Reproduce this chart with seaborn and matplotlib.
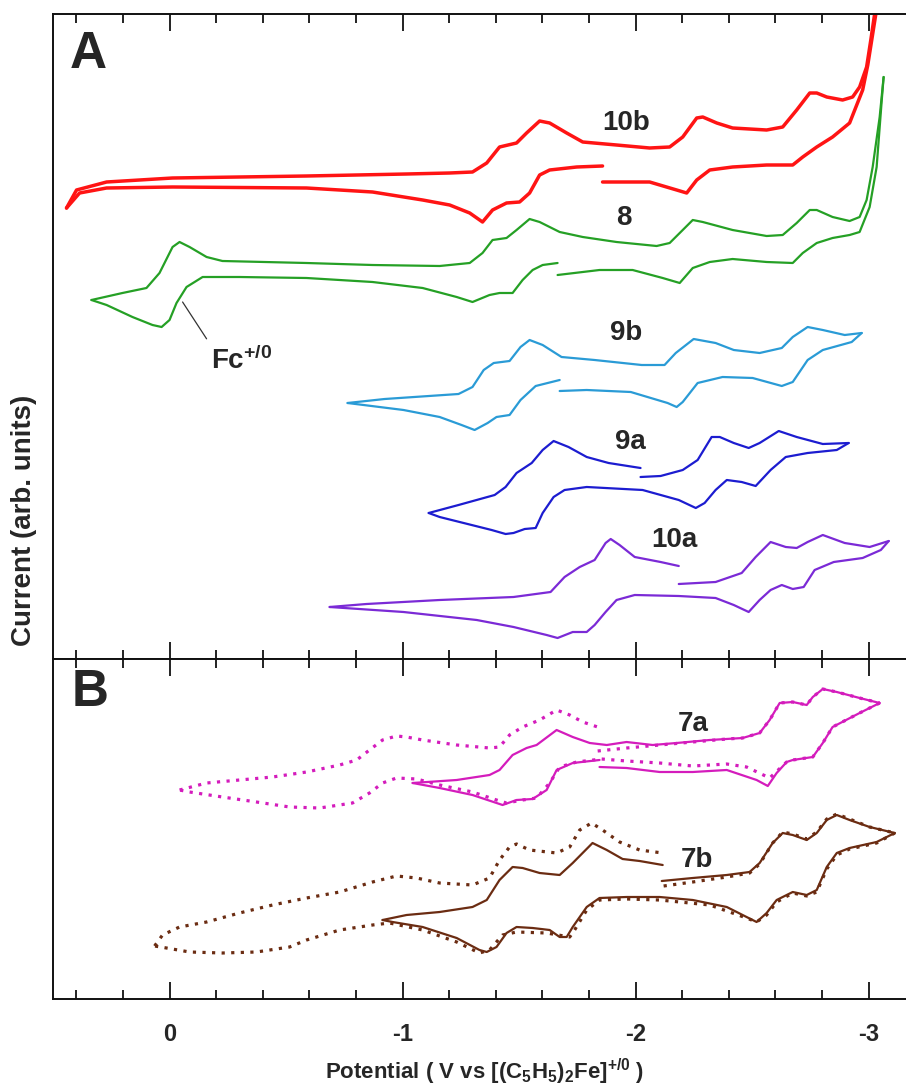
import matplotlib
matplotlib.use("Agg")
import matplotlib.pyplot as plt
import seaborn as sns
from matplotlib.ticker import MultipleLocator

# ---------------- data (potential in V vs Fc+/0, current in arbitrary units) ----------------
# Panel A -- 10b
v_10b_fwd = [0.442, 0.399, 0.270, -0.013, -0.588, -1.017, -1.202, -1.300, -1.361, -1.416, -1.489, -1.532, -1.588,
             -1.631, -1.704, -1.773, -1.918, -2.060, -2.146, -2.202, -2.262, -2.288, -2.348, -2.416, -2.562, -2.631,
             -2.691, -2.747, -2.777, -2.820, -2.888, -2.931, -2.961, -2.991, -3.009, -3.026, -3.034]
i_10b_fwd = [451, 469, 477, 481, 483, 485, 486, 487, 496, 512, 516, 526, 538, 536, 526, 517, 514, 511, 512, 522,
             541, 542, 536, 531, 529, 532, 549, 566, 566, 562, 559, 562, 572, 592, 619, 646, 659]
v_10b_rev_a = [-3.040, -3.013, -2.996, -2.974, -2.918, -2.845, -2.777, -2.717, -2.674, -2.562, -2.416, -2.318,
               -2.262, -2.219, -2.176, -2.060, -1.858]
i_10b_rev_a = [659, 619, 594, 569, 536, 522, 512, 502, 494, 494, 492, 489, 479, 466, 469, 477, 477]
v_10b_rev_b = [-1.858, -1.747, -1.631, -1.588, -1.545, -1.502, -1.446, -1.386, -1.343, -1.288, -1.202, -1.086,
               -0.871, -0.588, -0.013, 0.270, 0.386, 0.442]
i_10b_rev_b = [493, 492, 489, 484, 466, 457, 456, 449, 437, 446, 454, 459, 467, 471, 472, 471, 466, 451]

# Panel A -- 8 (with ferrocene couple)
v_8_fwd = [0.335, 0.202, 0.099, 0.043, -0.013, -0.043, -0.086, -0.159, -0.227, -0.588, -0.871, -1.159, -1.288,
           -1.343, -1.386, -1.446, -1.489, -1.545, -1.588, -1.674, -1.773, -1.918, -2.090, -2.146, -2.202, -2.245,
           -2.288, -2.416, -2.562, -2.631, -2.691, -2.747, -2.777, -2.845, -2.918, -2.961, -2.991, -3.017, -3.047,
           -3.064]
i_8_fwd = [359, 366, 371, 386, 412, 417, 412, 402, 398, 396, 394, 393, 396, 406, 419, 421, 429, 440, 437, 427,
           422, 417, 413, 416, 429, 439, 437, 429, 423, 424, 436, 449, 449, 442, 438, 442, 459, 492, 542, 582]
v_8_rev_a = [-3.064, -3.056, -3.034, -3.004, -2.961, -2.918, -2.845, -2.777, -2.717, -2.674, -2.562, -2.416,
             -2.318, -2.245, -2.189, -2.116, -1.987, -1.845, -1.665]
i_8_rev_a = [582, 559, 492, 452, 427, 424, 421, 416, 406, 396, 397, 400, 397, 391, 376, 381, 389, 389, 384]
v_8_rev_b = [-1.665, -1.601, -1.558, -1.515, -1.472, -1.416, -1.373, -1.300, -1.232, -1.086, -0.871, -0.588,
             -0.300, -0.142, -0.073, -0.030, 0.000, 0.034, 0.073, 0.159, 0.270, 0.335]
i_8_rev_b = [396, 394, 389, 379, 366, 366, 364, 357, 362, 371, 377, 381, 382, 382, 372, 356, 339, 332, 334, 342,
             354, 359]

# Panel A -- 9b
v_9b_fwd = [-0.764, -0.923, -1.240, -1.300, -1.348, -1.391, -1.459, -1.506, -1.545, -1.601, -1.682, -1.824,
            -2.026, -2.124, -2.172, -2.249, -2.343, -2.421, -2.532, -2.627, -2.674, -2.738, -2.803, -2.897, -2.970]
i_9b_fwd = [256, 260, 265, 272, 289, 296, 298, 312, 319, 314, 302, 299, 294, 294, 306, 320, 316, 309, 306, 311,
            322, 332, 329, 324, 326]
v_9b_rev_a = [-2.970, -2.927, -2.803, -2.738, -2.674, -2.627, -2.502, -2.373, -2.266, -2.202, -2.176, -2.137,
              -1.979, -1.790, -1.674]
i_9b_rev_a = [326, 317, 309, 299, 277, 273, 281, 282, 276, 257, 252, 256, 267, 269, 268]
v_9b_rev_b = [-1.674, -1.571, -1.506, -1.459, -1.403, -1.365, -1.309, -1.253, -1.159, -1.004, -0.764]
i_9b_rev_b = [279, 273, 259, 244, 242, 236, 229, 234, 242, 249, 256]

# Panel A -- 9a
v_9a_fwd_a = [-1.112, -1.240, -1.395, -1.442, -1.489, -1.554, -1.601, -1.648, -1.712, -1.790, -1.884, -2.021]
i_9a_fwd_a = [146, 154, 164, 172, 186, 196, 209, 218, 212, 202, 196, 191]
v_9a_fwd_b = [-2.021, -2.107, -2.202, -2.266, -2.326, -2.361, -2.421, -2.485, -2.532, -2.614, -2.691, -2.803,
              -2.914]
i_9a_fwd_b = [182, 183, 189, 199, 222, 222, 216, 211, 216, 228, 222, 215, 216]
v_9a_rev = [-2.914, -2.863, -2.738, -2.644, -2.579, -2.515, -2.455, -2.391, -2.343, -2.296, -2.258, -2.185,
            -2.030, -1.790, -1.695, -1.648, -1.601, -1.571, -1.524, -1.476, -1.442, -1.382, -1.159, -1.112]
i_9a_rev = [216, 209, 206, 202, 189, 173, 177, 179, 169, 156, 151, 159, 169, 172, 169, 162, 146, 131, 130, 126,
            125, 129, 142, 146]

# Panel A -- 10a
v_10a_fwd_a = [-0.687, -0.845, -1.159, -1.476, -1.635, -1.695, -1.760, -1.824, -1.871, -1.893, -1.931, -1.996,
               -2.107, -2.185]
i_10a_fwd_a = [52, 55, 59, 62, 67, 82, 92, 99, 116, 120, 114, 102, 97, 93]
v_10a_fwd_b = [-2.185, -2.343, -2.455, -2.515, -2.579, -2.644, -2.691, -2.738, -2.803, -2.897, -3.004, -3.086]
i_10a_fwd_b = [75, 77, 86, 102, 117, 112, 111, 117, 124, 116, 112, 118]
v_10a_rev = [-3.086, -3.052, -2.974, -2.850, -2.768, -2.721, -2.674, -2.627, -2.579, -2.532, -2.485, -2.421,
             -2.343, -2.185, -1.996, -1.918, -1.871, -1.824, -1.790, -1.730, -1.665, -1.618, -1.476, -1.318,
             -1.004, -0.687]
i_10a_rev = [118, 109, 101, 97, 89, 72, 70, 74, 69, 59, 47, 54, 61, 63, 64, 59, 47, 34, 27, 27, 21, 24, 32, 39,
             47, 52]

# Panel B -- 7a (dotted and solid scans)
v_7a_dot_fwd_a = [-0.043, -0.159, -0.300, -0.442, -0.588, -0.730, -0.803, -0.858, -0.914, -0.974, -1.017, -1.086,
                  -1.232, -1.373, -1.416, -1.459, -1.515, -1.588, -1.661, -1.717, -1.773, -1.837]
i_7a_dot_fwd_a = [209, 216, 219, 222, 227, 234, 239, 249, 259, 263, 262, 259, 254, 251, 252, 264, 272, 279, 289,
                  284, 277, 272]
v_7a_dot_fwd_b = [-1.837, -1.961, -2.103, -2.245, -2.391, -2.459, -2.532, -2.575, -2.618, -2.674, -2.734, -2.760,
                  -2.803, -2.863, -2.961, -3.047]
i_7a_dot_fwd_b = [248, 251, 254, 257, 260, 261, 266, 279, 296, 297, 294, 302, 310, 307, 301, 296]
v_7a_dot_rev = [-3.047, -2.961, -2.845, -2.803, -2.760, -2.674, -2.648, -2.575, -2.476, -2.391, -2.245, -2.103,
                -1.961, -1.854, -1.747, -1.674, -1.631, -1.575, -1.515, -1.446, -1.403, -1.300, -1.159, -1.060,
                -0.974, -0.914, -0.858, -0.785, -0.644, -0.515, -0.373, -0.227, -0.086, -0.043]
i_7a_dot_rev = [296, 286, 272, 256, 242, 239, 237, 221, 232, 235, 233, 236, 238, 240, 237, 232, 216, 201, 199,
                196, 199, 207, 214, 220, 221, 216, 206, 196, 191, 192, 197, 202, 207, 209]
v_7a_sol_fwd = [-1.043, -1.232, -1.373, -1.416, -1.472, -1.532, -1.575, -1.661, -1.730, -1.803, -1.876, -1.961,
                -2.073, -2.176, -2.318, -2.459, -2.532, -2.575, -2.618, -2.674, -2.734, -2.760, -2.803, -2.863,
                -2.961, -3.047]
i_7a_sol_fwd = [216, 219, 224, 229, 244, 251, 254, 269, 262, 256, 254, 257, 254, 256, 259, 261, 266, 279, 296,
                297, 294, 302, 310, 307, 301, 296]
v_7a_sol_rev_a = [-3.047, -2.961, -2.845, -2.803, -2.760, -2.674, -2.648, -2.605, -2.567, -2.519, -2.391, -2.245,
                  -2.103, -1.961, -1.845]
i_7a_sol_rev_a = [296, 286, 272, 256, 242, 239, 237, 226, 213, 219, 229, 227, 227, 231, 232]
v_7a_sol_rev_b = [-1.845, -1.730, -1.661, -1.618, -1.558, -1.489, -1.429, -1.300, -1.159, -1.043]
i_7a_sol_rev_b = [239, 236, 229, 209, 200, 199, 194, 204, 211, 216]

# Panel B -- 7b (dotted and solid scans)
v_7b_dot_fwd_a = [0.064, 0.030, -0.043, -0.159, -0.300, -0.442, -0.588, -0.730, -0.871, -0.974, -1.060, -1.159,
                  -1.300, -1.373, -1.416, -1.459, -1.489, -1.545, -1.661, -1.717, -1.760, -1.811, -1.858, -1.931,
                  -2.017, -2.116]
i_7b_dot_fwd_a = [53, 64, 72, 77, 86, 94, 101, 107, 117, 123, 121, 116, 114, 121, 139, 152, 155, 149, 146, 152,
                  169, 176, 169, 157, 149, 146]
v_7b_dot_fwd_b = [-2.120, -2.245, -2.391, -2.489, -2.532, -2.588, -2.631, -2.674, -2.734, -2.777, -2.820, -2.863,
                  -2.918, -3.004, -3.112]
i_7b_dot_fwd_b = [113, 117, 122, 126, 135, 156, 167, 165, 160, 167, 180, 185, 180, 172, 166]
v_7b_dot_rev = [-3.112, -3.034, -2.918, -2.863, -2.820, -2.777, -2.734, -2.674, -2.605, -2.562, -2.519, -2.476,
                -2.318, -2.103, -1.961, -1.845, -1.790, -1.738, -1.717, -1.618, -1.489, -1.429, -1.373, -1.330,
                -1.232, -1.086, -0.944, -0.871, -0.730, -0.588, -0.515, -0.373, -0.227, -0.086, 0.013, 0.064]
i_7b_dot_rev = [166, 156, 150, 144, 130, 107, 103, 106, 97, 84, 77, 81, 94, 99, 100, 99, 89, 69, 62, 66, 67, 64,
                49, 46, 57, 69, 76, 74, 69, 59, 52, 47, 46, 47, 51, 53]
v_7b_sol_fwd_a = [-0.914, -1.017, -1.159, -1.300, -1.361, -1.416, -1.472, -1.515, -1.588, -1.674, -1.730, -1.815,
                  -1.876, -1.944, -2.017, -2.116]
i_7b_sol_fwd_a = [79, 84, 87, 92, 99, 119, 132, 131, 126, 124, 136, 156, 149, 140, 138, 134]
v_7b_sol_fwd_b = [-2.112, -2.245, -2.391, -2.489, -2.532, -2.588, -2.631, -2.674, -2.734, -2.777, -2.820, -2.863,
                  -2.918, -3.004, -3.112]
i_7b_sol_fwd_b = [118, 121, 124, 127, 136, 156, 166, 164, 159, 166, 179, 184, 179, 172, 166]
v_7b_sol_rev = [-3.112, -3.034, -2.918, -2.863, -2.820, -2.777, -2.734, -2.674, -2.605, -2.562, -2.519, -2.476,
                -2.391, -2.245, -2.103, -1.961, -1.845, -1.790, -1.730, -1.704, -1.674, -1.631, -1.558, -1.489,
                -1.446, -1.403, -1.361, -1.330, -1.232, -1.086, -0.957, -0.914]
i_7b_sol_rev = [166, 157, 151, 146, 132, 109, 104, 107, 99, 86, 77, 82, 92, 99, 102, 102, 101, 92, 72, 62, 62, 69,
                71, 72, 66, 52, 47, 49, 61, 72, 77, 79]

# compound labels
labels_A = ["10b", "8", "9b", "9a", "10a"]
labels_A_v = [-1.957, -1.948, -1.957, -1.979, -2.167]
labels_A_i = [536, 441, 326, 217, 119]
labels_B = ["7a", "7b"]
labels_B_v = [-2.245, -2.262]
labels_B_i = [275, 139]
tick_vals = [0, -1, -2, -3]
tick_text = ["0", "-1", "-2", "-3"]

# ---------------- style ----------------
sns.set_theme(style="ticks")
plt.rcParams["font.family"] = ["Liberation Sans", "DejaVu Sans"]
plt.rcParams["font.weight"] = "bold"
plt.rcParams["mathtext.default"] = "regular"
plt.rcParams["axes.linewidth"] = 1.4

RED, GREEN, LBLUE, BLUE = "#ff1414", "#25a025", "#2a9bd6", "#1c1cd0"
PURPLE, MAGENTA, BROWN = "#7b2ad6", "#d41cbc", "#6b2c12"
DOT = (0, (1.0, 2.0))

fig = plt.figure(figsize=(9.06, 10.86), dpi=100)
W, H = 906.0, 1086.0
left = 53 / W
axA = fig.add_axes([left, 1 - 659 / H, 1 - left, (659 - 14) / H])
axB = fig.add_axes([left, 1 - 999 / H, 1 - left, (999 - 659) / H])


def trace(ax, v, i, color, lw=1.6, ls="-"):
    sns.lineplot(x=v, y=i, sort=False, estimator=None, ax=ax, color=color, lw=lw,
                 linestyle=ls, solid_joinstyle="round", solid_capstyle="round",
                 dash_capstyle="butt", legend=False)


# panel A
for v, i in [(v_10b_fwd, i_10b_fwd), (v_10b_rev_a, i_10b_rev_a), (v_10b_rev_b, i_10b_rev_b)]:
    trace(axA, v, i, RED, lw=2.5)
for v, i in [(v_8_fwd, i_8_fwd), (v_8_rev_a, i_8_rev_a), (v_8_rev_b, i_8_rev_b)]:
    trace(axA, v, i, GREEN)
for v, i in [(v_9b_fwd, i_9b_fwd), (v_9b_rev_a, i_9b_rev_a), (v_9b_rev_b, i_9b_rev_b)]:
    trace(axA, v, i, LBLUE)
for v, i in [(v_9a_fwd_a, i_9a_fwd_a), (v_9a_fwd_b, i_9a_fwd_b), (v_9a_rev, i_9a_rev)]:
    trace(axA, v, i, BLUE)
for v, i in [(v_10a_fwd_a, i_10a_fwd_a), (v_10a_fwd_b, i_10a_fwd_b), (v_10a_rev, i_10a_rev)]:
    trace(axA, v, i, PURPLE)

# panel B
for v, i in [(v_7a_dot_fwd_a, i_7a_dot_fwd_a), (v_7a_dot_fwd_b, i_7a_dot_fwd_b), (v_7a_dot_rev, i_7a_dot_rev)]:
    trace(axB, v, i, MAGENTA, lw=2.3, ls=DOT)
for v, i in [(v_7a_sol_fwd, i_7a_sol_fwd), (v_7a_sol_rev_a, i_7a_sol_rev_a), (v_7a_sol_rev_b, i_7a_sol_rev_b)]:
    trace(axB, v, i, MAGENTA)
for v, i in [(v_7b_dot_fwd_a, i_7b_dot_fwd_a), (v_7b_dot_fwd_b, i_7b_dot_fwd_b), (v_7b_dot_rev, i_7b_dot_rev)]:
    trace(axB, v, i, BROWN, lw=2.3, ls=DOT)
for v, i in [(v_7b_sol_fwd_a, i_7b_sol_fwd_a), (v_7b_sol_fwd_b, i_7b_sol_fwd_b), (v_7b_sol_rev, i_7b_sol_rev)]:
    trace(axB, v, i, BROWN)

# labels
for t, v, i in zip(labels_A, labels_A_v, labels_A_i):
    axA.text(v, i, t, fontsize=20, fontweight="bold", ha="center", va="center")
for t, v, i in zip(labels_B, labels_B_v, labels_B_i):
    axB.text(v, i, t, fontsize=20, fontweight="bold", ha="center", va="center")
axA.annotate("Fc$^{+/0}$", xy=(-0.056, 357), xytext=(-0.18, 298), fontsize=20, fontweight="bold",
             ha="left", va="center",
             arrowprops=dict(arrowstyle="-", color="#333333", lw=0.9, shrinkA=4, shrinkB=0,
                             relpos=(0.05, 0.85)))

axA.text(0.041, 0.937, "A", transform=axA.transAxes, fontsize=37, fontweight="bold", ha="center", va="center")
axB.text(0.043, 0.90, "B", transform=axB.transAxes, fontsize=37, fontweight="bold", ha="center", va="center")

# axes formatting
for ax, ylim in [(axA, (0, 645)), (axB, (0, 340))]:
    ax.set_xlim(0.5, -3.16)
    ax.set_ylim(*ylim)
    ax.xaxis.set_major_locator(MultipleLocator(1.0))
    ax.xaxis.set_minor_locator(MultipleLocator(0.2))
    ax.set_yticks([])
    ax.spines["right"].set_visible(False)
    for s in ["left", "top", "bottom"]:
        ax.spines[s].set_linewidth(1.4)
        ax.spines[s].set_color("#111111")
    ax.tick_params(axis="x", which="both", direction="in", top=True, bottom=True, width=1.3, color="#111111")
    ax.tick_params(axis="x", which="major", length=12.5)
    ax.tick_params(axis="x", which="minor", length=6.5)
    ax.set_xlabel("")
    ax.set_ylabel("")

axA.tick_params(axis="x", which="both", labelbottom=False, labeltop=False)
axB.tick_params(axis="x", which="major", labelbottom=True, labeltop=False, pad=17, labelsize=17)
axB.set_xticks(tick_vals)
axB.set_xticklabels(tick_text, fontweight="bold")

fig.text(485 / W, 1 - 1072 / H, "Potential ( V vs [(C$_5$H$_5$)$_2$Fe]$^{+/0}$ )", fontsize=16,
         fontweight="bold", ha="center", va="center")
fig.text(24 / W, 1 - 520 / H, "Current (arb. units)", rotation=90, fontsize=20, fontweight="bold",
         ha="center", va="center")

fig.savefig("out.png", dpi=100)
